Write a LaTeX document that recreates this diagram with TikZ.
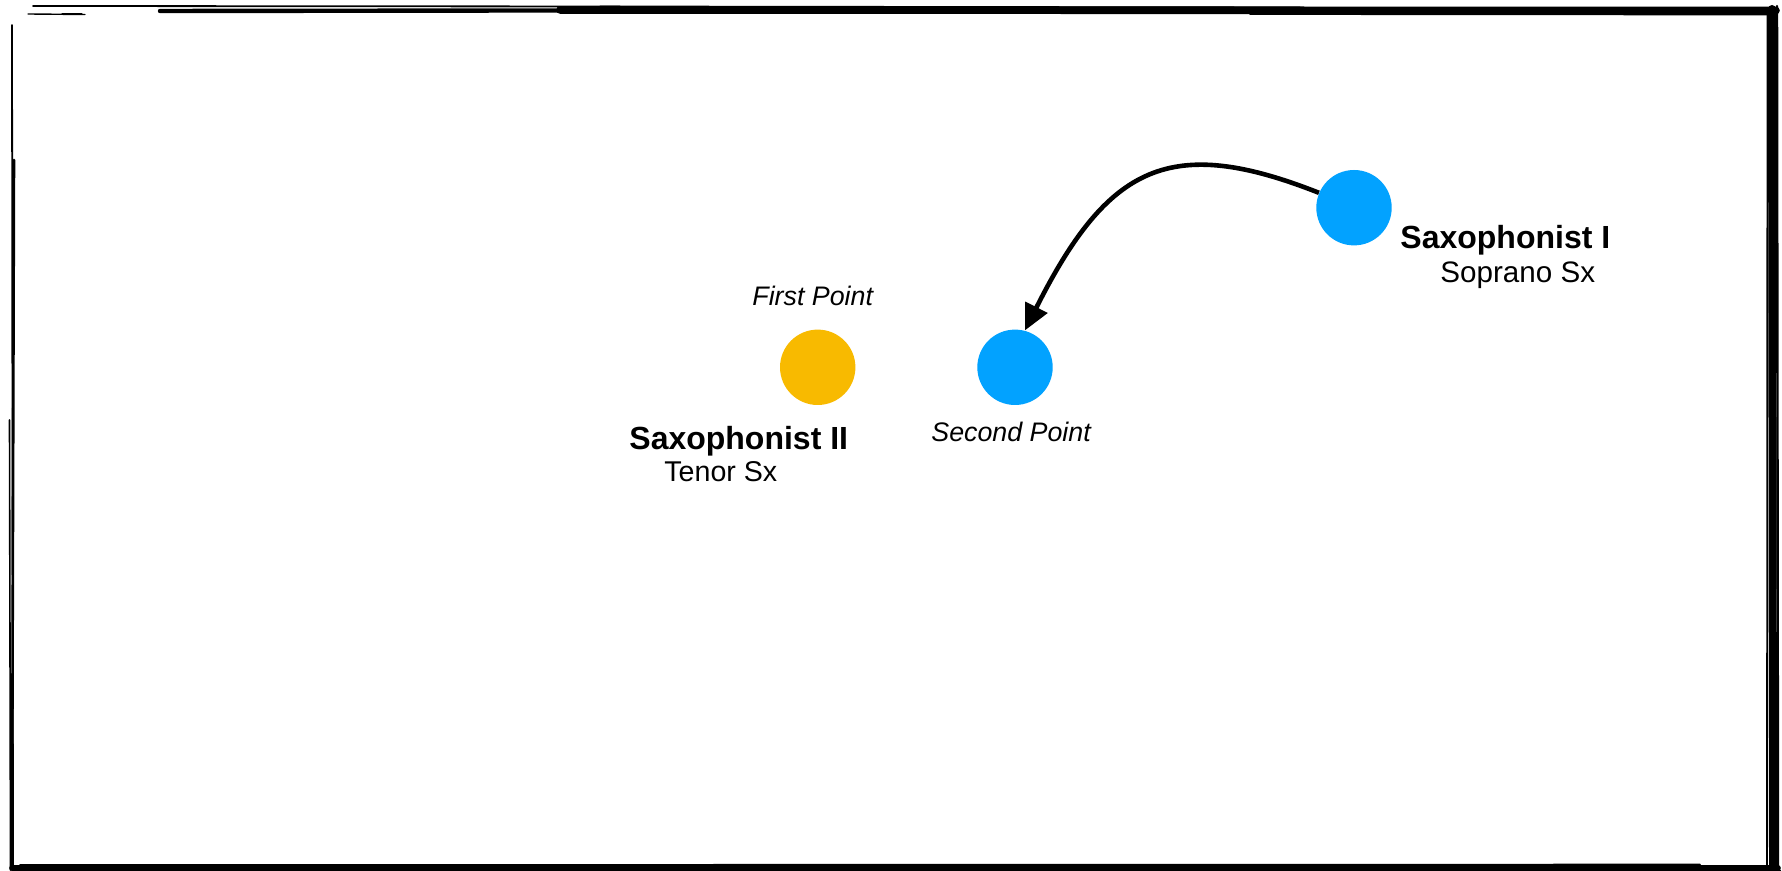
\documentclass[tikz,border=0pt]{standalone}
\usepackage{fontspec}
\setmainfont{Liberation Sans}
\usetikzlibrary{arrows.meta}
\definecolor{saxblue}{RGB}{2,162,255}
\definecolor{saxgold}{RGB}{248,186,0}

\begin{document}
\begin{tikzpicture}[x=0.5pt,y=-0.5pt,
  player/.style={circle,inner sep=0pt,minimum size=37.7pt},
  playername/.style={anchor=base west,inner sep=0pt,font=\fontsize{16pt}{19pt}\selectfont\bfseries},
  instrument/.style={anchor=base west,inner sep=0pt,font=\fontsize{14.3pt}{17pt}\selectfont},
  spotlabel/.style={anchor=base west,inner sep=0pt,font=\fontsize{13.4pt}{16pt}\selectfont\itshape},
  move/.style={line width=2.3pt,-{Triangle[length=13pt,width=12pt]}},
  sketch/.style={line cap=round,black}
]
% canvas
\useasboundingbox[fill=white] (0,0) rectangle (1782,871);

% hand-drawn frame: several overlapping strokes per side
% top
\draw[sketch,line width=0.9pt] (33,6) -- (620,6.5);
\draw[sketch,line width=0.7pt] (28,14) -- (85,14.5);
\draw[sketch,line width=0.6pt] (62,14) -- (82,14);
\draw[sketch,line width=2.2pt] (160,11) -- (900,10);
\draw[sketch,line width=3.8pt] (560,10) -- (1776,10.5);
\draw[sketch,line width=1.4pt] (600,7) -- (1300,8);
\draw[sketch,line width=1.4pt] (1250,13.5) -- (1775,14);
% right
\draw[sketch,line width=4pt] (1772,9) -- (1773,869);
\draw[sketch,line width=0.9pt] (1767.5,15) -- (1767,865);
\draw[sketch,line width=1.2pt] (1777,6) -- (1778,870);
% bottom
\draw[sketch,line width=2.8pt] (12,868) -- (1778,868);
\draw[sketch,line width=0.8pt] (20,865) -- (1700,864.5);
\draw[sketch,line width=1.1pt] (100,870) -- (1780,870.5);
% left
\draw[sketch,line width=0.9pt] (12,25) -- (13,871);
\draw[sketch,line width=1.3pt] (14,160) -- (12,868);
\draw[sketch,line width=0.8pt] (9.5,420) -- (10.5,870);

% players
\node[player,fill=saxblue] (s1) at (1354,207.7) {};
\node[player,fill=saxblue] (s2) at (1015,367.3) {};
\node[player,fill=saxgold] (t1) at (817.7,367.3) {};

% labels
\node[playername] (s1name)  at (1400,249) {Saxophonist I};
\node[instrument,font=\fontsize{14.8pt}{17pt}\selectfont] (s1instr) at (1440,283) {Soprano Sx};
\node[playername] (t1name)  at (629,450) {Saxophonist II};
\node[instrument] (t1instr) at (664,481) {Tenor Sx};
\node[spotlabel]  (p1)      at (752,306) {First Point};
\node[spotlabel]  (p2)      at (931,442) {Second Point};

% movement of the soprano player
\draw[move] (s1.157) .. controls (1170,134) and (1108,165) .. (s2.75);
\end{tikzpicture}
\end{document}
